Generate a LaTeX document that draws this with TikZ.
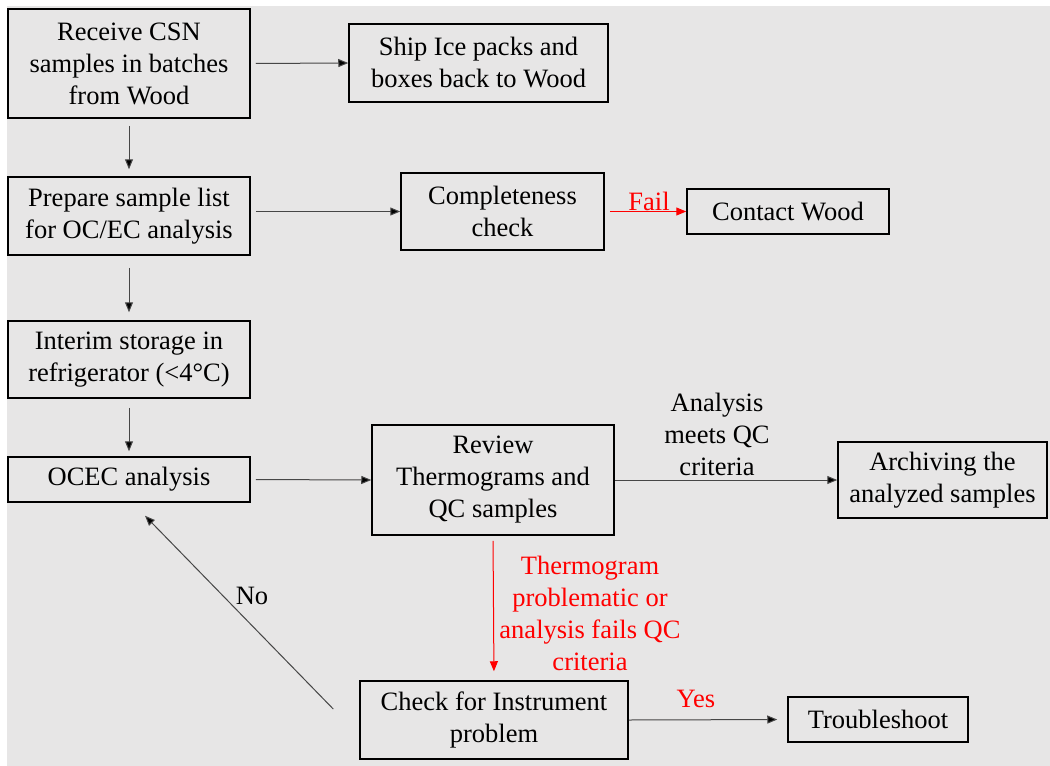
\documentclass[tikz,border=0pt]{standalone}
\usepackage{fontspec}
\setmainfont{Liberation Serif}
\usetikzlibrary{arrows.meta}
\definecolor{sheet}{RGB}{231,230,230}
\definecolor{wire}{RGB}{70,70,70}
\definecolor{alarm}{RGB}{255,0,0}
\tikzset{
    stepbox/.style={draw=black, line width=1.5pt, align=center, inner sep=0pt,
        font=\fontsize{26.5}{32}\selectfont},
    flow/.style={draw=wire, line width=1pt, -{Triangle[length=10pt,width=8pt,fill=black]}},
    failflow/.style={draw=alarm, line width=1pt, -{Triangle[length=10pt,width=8pt,fill=alarm]}},
    tag/.style={align=center, inner sep=0pt, font=\fontsize{26.5}{32}\selectfont},
}

\begin{document}
\begin{tikzpicture}[x=1pt, y=-1pt]
\useasboundingbox (0,0) rectangle (1050,766);
\fill[sheet] (7,6) rectangle (1050,766);

% boxes
\node[stepbox, minimum width=242pt, minimum height=109pt] (rcv) at (129,63.5)
    {Receive CSN\\samples in batches\\from Wood};
\node[stepbox, minimum width=259pt, minimum height=78pt] (ship) at (478.5,63)
    {Ship Ice packs and\\boxes back to Wood};
\node[stepbox, minimum width=242pt, minimum height=78pt] (prep) at (129,216)
    {Prepare sample list\\for OC/EC analysis};
\node[stepbox, minimum width=203pt, minimum height=77pt] (compl) at (502.5,211.5)
    {Completeness\\check};
\node[stepbox, minimum width=202pt, minimum height=45pt] (contact) at (788,211.5)
    {Contact Wood};
\node[stepbox, minimum width=242pt, minimum height=77pt] (interim) at (129,359.5)
    {Interim storage in\\refrigerator (<4°C)};
\node[stepbox, minimum width=242pt, minimum height=45pt] (ocec) at (129,479.5)
    {OCEC analysis};
\node[stepbox, minimum width=242pt, minimum height=110pt] (review) at (493,480)
    {Review\\Thermograms and\\QC samples};
\node[stepbox, minimum width=209pt, minimum height=76pt] (archive) at (942.5,480)
    {Archiving the\\analyzed samples};
\node[stepbox, minimum width=268pt, minimum height=78pt] (check) at (494,720)
    {Check for Instrument\\problem};
\node[stepbox, minimum width=180pt, minimum height=45pt] (trouble) at (878,719.5)
    {Troubleshoot};

% arrows
\draw[flow, shorten <=5pt] (rcv.east) -- (ship.west);
\draw[flow, shorten <=7pt, shorten >=7pt] (rcv.south) -- (prep.north);
\draw[flow, shorten <=5pt] (prep.east |- compl.west) -- (compl.west);
\draw[failflow, shorten <=5pt] (compl.east) -- (contact.west);
\draw[flow, shorten <=12pt, shorten >=8pt] (prep.south) -- (interim.north);
\draw[flow, shorten <=9pt, shorten >=5pt] (interim.south) -- (ocec.north);
\draw[flow, shorten <=5pt] (ocec.east) -- (review.west);
\draw[flow] (review.east) -- (archive.west);
\draw[failflow, shorten <=5pt, shorten >=9pt] (review.south) -- (check.north);
\draw[flow, shorten >=10pt] (check.east) -- (trouble.west);

\coordinate (noS) at ([xshift=-26pt, yshift=11pt]check.west);
\coordinate (noE) at ([xshift=16pt, yshift=-13pt]ocec.south);
\draw[flow] (noS) -- (noE);

% labels
\node[tag, text=alarm] (fail) at (649,201) {Fail};
\node[tag] (meets) at (717,434) {Analysis\\meets QC\\criteria};
\node[tag, text=alarm] (thermo) at (590,613) {Thermogram\\problematic or\\analysis fails QC\\criteria};
\node[tag] (no) at (252,596) {No};
\node[tag, text=alarm] (yes) at (696,699) {Yes};

\end{tikzpicture}
\end{document}
